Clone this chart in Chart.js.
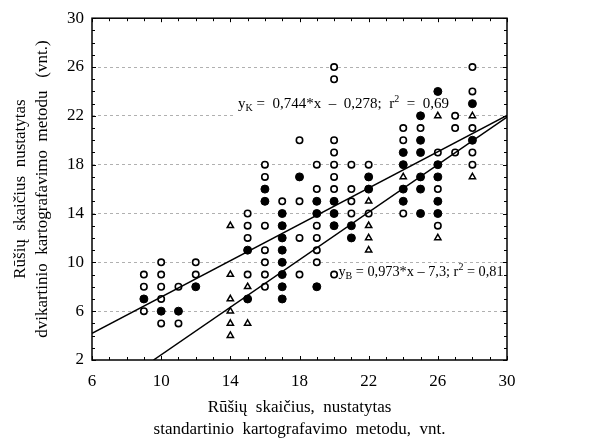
<!DOCTYPE html>
<html>
<head>
<meta charset="utf-8">
<script src="https://cdn.jsdelivr.net/npm/chart.js@4.4.0/dist/chart.umd.min.js"></script>
<style>
  html, body { margin: 0; padding: 0; background: #fff; }
</style>
</head>
<body>
<canvas id="myChart" width="602" height="443"></canvas>
<script>
const ctx = document.getElementById('myChart');

const xTicks = [6, 10, 14, 18, 22, 26, 30];
const yTicks = [2, 6, 10, 14, 18, 22, 26, 30];

// [x, y] points
const openCircles = [
    [9, 9], [9, 8], [9, 6],
    [10, 10], [10, 9], [10, 8], [10, 7], [10, 5],
    [11, 8], [11, 5],
    [12, 10], [12, 9],
    [15, 14], [15, 13], [15, 12], [15, 9],
    [16, 18], [16, 17], [16, 13], [16, 11], [16, 10], [16, 9], [16, 8],
    [17, 15],
    [18, 20], [18, 15], [18, 12], [18, 9],
    [19, 18], [19, 16], [19, 13], [19, 12], [19, 11], [19, 10],
    [20, 26], [20, 25], [20, 20], [20, 19], [20, 18], [20, 17], [20, 16], [20, 9],
    [21, 18], [21, 16], [21, 15], [21, 14],
    [22, 18], [22, 14],
    [24, 21], [24, 20], [24, 14],
    [25, 21],
    [26, 19], [26, 16], [26, 13],
    [27, 22], [27, 21], [27, 19],
    [28, 26], [28, 24], [28, 21], [28, 19], [28, 18]
];

const filledCircles = [
    [9, 7], [10, 6], [11, 6], [12, 8],
    [15, 11], [15, 7],
    [16, 16], [16, 15],
    [17, 14], [17, 13], [17, 12], [17, 11], [17, 10], [17, 9], [17, 8], [17, 7],
    [18, 17],
    [19, 15], [19, 14], [19, 8],
    [20, 15], [20, 14], [20, 13],
    [21, 13], [21, 12],
    [22, 17], [22, 16],
    [24, 19], [24, 18], [24, 16], [24, 15],
    [25, 22], [25, 20], [25, 19], [25, 17], [25, 16], [25, 14],
    [26, 24], [26, 18], [26, 17], [26, 15], [26, 14],
    [28, 23], [28, 20]
];

const triangles = [
    [14, 13], [14, 9], [14, 7], [14, 6], [14, 5], [14, 4],
    [15, 8], [15, 5],
    [22, 15], [22, 13], [22, 12], [22, 11],
    [24, 17],
    [26, 22], [26, 12],
    [28, 22], [28, 17]
];

// regression lines: slope, intercept (from the labels on the chart)
const lineK = [0.744, -0.278];
const lineB = [0.973, -7.3];
const labelK = [['y', ''], ['K', 'sub'], [' =  0,744*x  \u2013  0,278;  r', ''], ['2', 'sup'], ['  =  0,69', '']];
const labelB = [['y', ''], ['B', 'sub'], [' = 0,973*x \u2013 7,3; r', ''], ['2', 'sup'], [' = 0,81', '']];
// where each label starts (left end of the baseline), in data units
const labelKAt = [14.45, 22.65];
const labelBAt = [20.25, 8.85];

const toPairs = pts => pts.map(p => ({ x: p[0], y: p[1] }));

function lineFrom(coef, x0, x1) {
    // start where the line enters the plot (y = 2) if that is right of x0
    let xs = Math.max(x0, (2 - coef[1]) / coef[0]);
    return [{ x: xs, y: coef[0] * xs + coef[1] }, { x: x1, y: coef[0] * x1 + coef[1] }];
}

const serif = "'Liberation Serif', 'DejaVu Serif', serif";

function drawEq(c, x, y, parts, size) {
    c.save();
    c.textBaseline = 'alphabetic';
    c.textAlign = 'left';
    // white box behind the text, it hides the grid line under it
    let w = 0;
    parts.forEach(([t, kind]) => {
        c.font = (kind ? Math.round(size * 0.67) : size) + 'px ' + serif;
        w += c.measureText(t).width;
    });
    c.fillStyle = '#fff';
    c.fillRect(x - 4, y - size * 0.75, w + 8, size * 0.75 + 9);
    c.fillStyle = '#000';
    parts.forEach(([t, kind]) => {
        if (kind === 'sub') {
            c.font = Math.round(size * 0.67) + 'px ' + serif;
            c.fillText(t, x, y + 3);
        } else if (kind === 'sup') {
            c.font = Math.round(size * 0.67) + 'px ' + serif;
            c.fillText(t, x, y - 6);
        } else {
            c.font = size + 'px ' + serif;
            c.fillText(t, x, y);
        }
        x += c.measureText(t).width;
    });
    c.restore();
}

// equation labels go under the marks, box and ticks on top
const framePlugin = {
    id: 'frame',
    beforeDatasetsDraw(chart) {
        const xs = chart.scales.x, ys = chart.scales.y;
        drawEq(chart.ctx, xs.getPixelForValue(labelKAt[0]), ys.getPixelForValue(labelKAt[1]), labelK, 15);
        drawEq(chart.ctx, xs.getPixelForValue(labelBAt[0]), ys.getPixelForValue(labelBAt[1]), labelB, 14.3);
    },
    afterDraw(chart) {
        const c = chart.ctx;
        const a = chart.chartArea;
        const xs = chart.scales.x, ys = chart.scales.y;
        c.save();
        c.strokeStyle = '#000';
        c.lineWidth = 1.5;
        c.strokeRect(a.left, a.top, a.right - a.left, a.bottom - a.top);
        c.lineWidth = 1;
        c.beginPath();
        for (let v = 6; v <= 30; v++) {
            const px = Math.round(xs.getPixelForValue(v)) + 0.5;
            const len = (v - 6) % 4 === 0 ? 4 : 3;
            c.moveTo(px, a.bottom); c.lineTo(px, a.bottom - len);
            c.moveTo(px, a.top); c.lineTo(px, a.top + len);
        }
        for (let v = 2; v <= 30; v++) {
            const py = Math.round(ys.getPixelForValue(v)) + 0.5;
            const len = (v - 2) % 4 === 0 ? 4 : 3;
            c.moveTo(a.left, py); c.lineTo(a.left + len, py);
            c.moveTo(a.right, py); c.lineTo(a.right - len, py);
        }
        c.stroke();
        c.restore();
    }
};

const chartDemo = new Chart(ctx, {
    type: 'scatter',
    data: {
        datasets: [
            {
                label: 'K line',
                type: 'line',
                data: lineFrom(lineK, 6, 30),
                borderColor: '#000',
                borderWidth: 1.5,
                pointRadius: 0,
                fill: false,
            },
            {
                label: 'B line',
                type: 'line',
                data: lineFrom(lineB, 6, 30),
                borderColor: '#000',
                borderWidth: 1.5,
                pointRadius: 0,
                fill: false,
            },
            {
                label: 'open',
                data: toPairs(openCircles),
                pointStyle: 'circle',
                pointRadius: 3.2,
                pointBorderWidth: 1.6,
                pointBorderColor: '#000',
                pointBackgroundColor: '#fff',
            },
            {
                label: 'filled',
                data: toPairs(filledCircles),
                pointStyle: 'circle',
                pointRadius: 4,
                pointBorderWidth: 1,
                pointBorderColor: '#000',
                pointBackgroundColor: '#000',
            },
            {
                label: 'triangle',
                data: toPairs(triangles),
                pointStyle: 'triangle',
                pointRadius: 3.6,
                pointBorderWidth: 1.5,
                pointBorderColor: '#000',
                pointBackgroundColor: '#fff',
            },
        ]
    },
    options: {
        responsive: false,
        animation: false,
        layout: { padding: { left: 0, top: 13, right: 95, bottom: 0 } },
        plugins: {
            legend: { display: false },
            tooltip: { enabled: false },
        },
        scales: {
            x: {
                type: 'linear',
                min: 6,
                max: 30,
                afterBuildTicks: s => { s.ticks = xTicks.map(v => ({ value: v })); },
                afterFit: s => { s.height = 83; },
                grid: { display: false, drawTicks: false },
                border: { display: false },
                ticks: {
                    color: '#000',
                    padding: 11,
                    maxRotation: 0,
                    font: { family: serif, size: 17 },
                },
                title: {
                    display: true,
                    text: ['R\u016b\u0161i\u0173  skai\u010dius,  nustatytas', 'standartinio  kartografavimo  metodu,  vnt.'],
                    color: '#000',
                    font: { family: serif, size: 17, lineHeight: 1.3 },
                    padding: { top: 0, bottom: 2 },
                },
            },
            y: {
                type: 'linear',
                min: 2,
                max: 30,
                afterBuildTicks: s => { s.ticks = yTicks.map(v => ({ value: v })); },
                afterFit: s => { s.width = 92; },
                grid: {
                    drawTicks: false,
                    color: c => (c.tick && (c.tick.value === 2 || c.tick.value === 30)) ? 'rgba(0,0,0,0)' : '#b0b0b0',
                    lineWidth: 1,
                },
                border: { display: false, dash: [3, 3] },
                ticks: {
                    color: '#000',
                    padding: 8,
                    font: { family: serif, size: 17 },
                },
                title: {
                    display: true,
                    text: ['R\u016b\u0161i\u0173  skai\u010dius  nustatytas', 'dvikartinio  kartografavimo  metodu   (vnt.)'],
                    color: '#000',
                    font: { family: serif, size: 17, lineHeight: 1.3 },
                    padding: { top: 9, bottom: 0 },
                },
            },
        }
    },
    plugins: [framePlugin]
});
</script>
</body>
</html>
